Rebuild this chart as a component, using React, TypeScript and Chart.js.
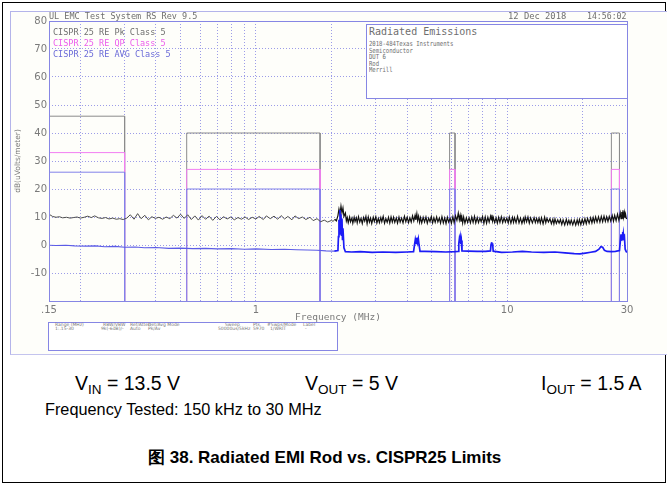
import React, { useEffect, useRef } from 'react';
import { Chart, registerables } from 'chart.js';

Chart.register(...registerables);

// CISPR 25 Class 5 radiated (rod) limit bands
const bandStartMHz = [0.15, 0.53, 5.9, 26];
const bandEndMHz = [0.3, 1.8, 6.2, 28];
const peakLimit = [46, 40, 40, 40];
const qpLimit = [33, 27, 27, 27];
const avgLimit = [26, 20, 20, 20];

// Peak (black) trace
const peakFreq = [
  0.150, 0.155, 0.160, 0.165, 0.170, 0.176, 0.182, 0.188, 0.194, 0.200,
  0.207, 0.214, 0.221, 0.228, 0.236, 0.244, 0.252, 0.260, 0.269, 0.278,
  0.287, 0.296, 0.306, 0.316, 0.327, 0.338, 0.349, 0.361, 0.373, 0.385,
  0.398, 0.411, 0.425, 0.439, 0.454, 0.469, 0.485, 0.501, 0.518, 0.535,
  0.553, 0.571, 0.590, 0.610, 0.630, 0.651, 0.673, 0.696, 0.719, 0.743,
  0.768, 0.794, 0.820, 0.848, 0.876, 0.905, 0.935, 0.966, 1.00, 1.03,
  1.07, 1.10, 1.14, 1.18, 1.22, 1.26, 1.30, 1.34, 1.39, 1.43,
  1.48, 1.53, 1.58, 1.64, 1.69, 1.75, 1.81, 1.87, 1.93, 2.00,
  2.03, 2.06, 2.09, 2.12, 2.14, 2.16, 2.18, 2.20, 2.22, 2.24,
  2.27, 2.29, 2.31, 2.33, 2.36, 2.38, 2.41, 2.43, 2.46, 2.48, 2.51, 2.53, 2.56, 2.59, 2.62, 2.65, 2.68, 2.71, 2.74, 2.77,
  2.80, 2.83, 2.86, 2.89, 2.93, 2.96, 3.00, 3.03, 3.07, 3.10, 3.14, 3.17, 3.21, 3.25, 3.29, 3.33, 3.37, 3.41, 3.45, 3.49,
  3.53, 3.57, 3.62, 3.66, 3.71, 3.75, 3.80, 3.85, 3.90, 3.95, 4.00, 4.05, 4.10, 4.15, 4.20, 4.25, 4.30, 4.33, 4.37, 4.40,
  4.44, 4.48, 4.52, 4.57, 4.63, 4.69, 4.75, 4.81, 4.87, 4.93, 4.99, 5.05, 5.11, 5.17, 5.24, 5.30, 5.37, 5.43, 5.50, 5.57,
  5.64, 5.71, 5.78, 5.85, 5.93, 6.00, 6.08, 6.15, 6.23, 6.31, 6.39, 6.45, 6.50, 6.55, 6.60, 6.65, 6.71, 6.79, 6.88, 6.96,
  7.05, 7.14, 7.23, 7.32, 7.41, 7.50, 7.60, 7.69, 7.79, 7.88, 7.98, 8.08, 8.18, 8.28, 8.38, 8.48, 8.59, 8.65, 8.70, 8.75,
  8.81, 8.92, 9.03, 9.14, 9.25, 9.36, 9.48, 9.60, 9.72, 9.84, 9.97, 10.1, 10.2, 10.35, 10.5, 10.6, 10.7, 10.85, 11.0, 11.15,
  11.3, 11.45, 11.6, 11.7, 11.8, 11.95, 12.1, 12.25, 12.4, 12.6, 12.8, 12.95, 13.1, 13.25, 13.4, 13.55, 13.7, 13.9, 14.1, 14.25,
  14.4, 14.6, 14.8, 15.0, 15.2, 15.35, 15.5, 15.7, 15.9, 16.1, 16.3, 16.5, 16.7, 16.95, 17.2, 17.4, 17.6, 17.8, 18.0, 18.25,
  18.5, 18.75, 19.0, 19.2, 19.4, 19.65, 19.9, 20.15, 20.4, 20.65, 20.9, 21.2, 21.5, 21.75, 22.0, 22.25, 22.5, 22.8, 23.1, 23.4,
  23.7, 24.0, 24.3, 24.6, 24.9, 25.2, 25.5, 25.85, 26.2, 26.5, 26.8, 27.15, 27.5, 27.85, 28.2, 28.4, 28.6, 28.75, 28.9, 29.1,
  29.3, 29.45, 29.6, 29.8, 30.0,
];
const peakLevel = [
  11.0, 10.2, 9.9, 10.1, 9.7, 9.9, 9.6, 9.8, 10.0, 9.6,
  9.9, 10.3, 9.8, 10.4, 9.7, 9.5, 9.8, 9.3, 9.6, 9.2,
  9.4, 9.1, 9.6, 10.8, 9.2, 11.2, 9.4, 10.6, 9.0, 10.1,
  9.5, 9.9, 9.2, 10.0, 9.4, 10.6, 9.6, 11.0, 9.5, 10.8,
  9.1, 10.4, 8.9, 10.5, 9.2, 10.3, 8.8, 10.2, 9.0, 10.1,
  9.3, 10.0, 9.0, 9.8, 9.2, 10.0, 9.1, 9.9, 9.3, 10.2,
  9.1, 10.4, 9.4, 10.3, 9.2, 10.5, 9.3, 10.2, 9.0, 10.4,
  9.4, 10.0, 9.1, 9.9, 8.7, 9.4, 8.3, 8.9, 8.2, 8.8,
  8.4, 9.2, 8.6, 10.5, 12.8, 11.0, 13.9, 11.5, 13.2, 10.2,
  11.4, 8.6, 9.8, 8.0, 10.0, 8.3, 9.6, 7.8, 9.9, 8.4, 9.7, 7.9, 10.1, 8.2, 9.5, 7.7, 9.8, 8.5, 10.2, 7.6,
  10.0, 8.2, 9.6, 7.7, 9.9, 8.4, 10.1, 7.9, 9.5, 8.0, 9.8, 8.3, 10.2, 7.8, 9.4, 8.1, 9.9, 7.9, 10.0, 8.2,
  9.9, 8.1, 9.7, 7.8, 10.0, 8.2, 9.6, 7.9, 10.2, 8.3, 9.9, 8.0, 9.7, 8.2, 10.4, 8.6, 10.6, 9.0, 11.2, 8.8,
  10.3, 8.1, 9.8, 7.9, 9.9, 8.2, 10.0, 7.8, 9.6, 8.3, 10.1, 7.9, 9.7, 8.1, 10.0, 8.2, 9.6, 7.8, 10.1, 7.9,
  9.7, 7.7, 9.9, 8.2, 9.5, 7.8, 10.1, 8.0, 10.4, 8.8, 11.4, 9.0, 10.6, 8.3, 10.1, 7.9, 10.0, 7.8, 9.7, 8.1,
  9.7, 7.9, 10.0, 8.1, 10.2, 7.9, 9.8, 8.0, 9.6, 8.3, 10.1, 7.7, 10.0, 7.8, 9.9, 8.2, 10.3, 9.0, 10.8, 8.6,
  9.8, 8.0, 9.7, 7.8, 9.9, 8.1, 10.1, 8.0, 9.7, 8.2, 9.6, 7.9, 10.0, 7.8, 9.9, 8.1, 9.8, 8.0, 10.2, 7.9,
  9.6, 7.7, 9.5, 8.1, 10.0, 8.3, 10.0, 7.8, 9.7, 7.9, 9.8, 8.0, 9.5, 8.0, 9.6, 7.8, 9.7, 7.6, 9.9, 8.0,
  9.5, 8.2, 9.4, 7.6, 9.2, 7.5, 9.3, 7.7, 9.0, 7.8, 9.1, 7.3, 9.0, 7.2, 9.2, 7.4, 8.8, 7.4, 8.9, 7.2,
  8.9, 7.1, 9.0, 7.4, 9.1, 7.3, 9.2, 7.5, 9.4, 7.6, 9.5, 7.8, 9.7, 7.9, 9.8, 8.1, 10.0, 8.2, 10.1, 8.2,
  10.2, 8.3, 10.3, 8.4, 10.1, 8.4, 10.2, 8.5, 10.5, 8.5, 10.6, 8.7, 11.0, 8.8, 11.4, 9.4, 11.8, 9.6, 12.4, 9.9,
  11.6, 9.8, 11.0, 9.5, 9.4,
];

// Average (blue) trace
const avgFreq = [
  0.150, 0.160, 0.175, 0.190, 0.210, 0.230, 0.250, 0.275, 0.300, 0.330,
  0.360, 0.400, 0.450, 0.500, 0.560, 0.630, 0.700, 0.800, 0.900, 1.00,
  1.15, 1.30, 1.45, 1.60, 1.75, 1.90, 2.05, 2.12, 2.13, 2.14,
  2.15, 2.16, 2.17, 2.18, 2.19, 2.20, 2.21, 2.22, 2.24, 2.27,
  2.40, 2.60, 2.90, 3.20, 3.60, 4.00, 4.24, 4.28, 4.31, 4.34,
  4.37, 4.40, 4.43, 4.46, 4.50, 4.70, 5.20, 5.70, 6.20, 6.38,
  6.42, 6.45, 6.48, 6.51, 6.54, 6.57, 6.61, 7.00, 7.60, 8.20,
  8.58, 8.63, 8.67, 8.71, 8.75, 8.80, 9.50, 10.5, 11.5, 12.5,
  14.0, 15.5, 17.0, 18.5, 19.5, 20.5, 21.5, 22.5, 23.2, 23.6,
  24.0, 24.4, 25.0, 26.0, 27.0, 28.0, 28.2, 28.4, 28.5, 28.6,
  28.7, 28.8, 28.9, 29.0, 29.1, 29.3, 29.5, 29.8, 30.0,
];
const avgLevel = [
  -0.1, -0.2, -0.1, -0.3, -0.4, -0.3, -0.6, -0.5, -0.8, -0.7,
  -1.0, -0.9, -1.2, -1.1, -1.3, -1.2, -1.4, -1.3, -1.5, -1.4,
  -1.6, -1.5, -1.7, -1.8, -1.9, -2.1, -2.2, -2.0, 3.0, 9.0,
  4.0, 12.5, 5.0, 11.0, 3.5, 9.5, 2.0, 6.0, -1.0, -2.4,
  -2.5, -2.4, -2.6, -2.5, -2.6, -2.5, -2.4, 0.2, 2.0, 0.6,
  2.6, 0.9, 2.2, 0.0, -2.3, -2.3, -2.4, -2.5, -2.4, -2.3,
  0.5, 2.0, 0.8, 2.4, 0.4, 1.6, -2.1, -2.2, -2.3, -2.3,
  -2.1, 0.2, 1.0, 0.0, 0.6, -2.2, -2.6, -2.5, -2.3, -2.5,
  -2.6, -2.5, -2.8, -3.1, -3.2, -2.9, -2.6, -2.3, -1.5, -0.6,
  -0.8, -1.9, -2.3, -2.4, -2.3, -2.0, 1.0, 3.8, 1.5, 3.2,
  2.0, 4.6, 2.4, 4.0, 2.5, 3.0, -1.5, -2.4, -2.6,
];

const xGridValues = [0.15, 0.2, 0.3, 0.4, 0.5, 0.6, 0.7, 0.8, 0.9, 1, 2, 3, 4, 5, 6, 7, 8, 9, 10, 20, 30];
const xLabeledTicks = [0.15, 1, 10, 30];
const xTickText = ['.15', '1', '10', '30'];
const yMin = -20;
const yMax = 80;

const seriesNames = ['CISPR 25 RE Pk Class 5', 'CISPR 25 RE QP Class 5', 'CISPR 25 RE AVG Class 5'];

function limitPoints(levels: number[]) {
  const pts: { x: number; y: number | null }[] = [];
  for (let i = 0; i < bandStartMHz.length; i++) {
    pts.push({ x: bandStartMHz[i], y: yMin });
    pts.push({ x: bandStartMHz[i], y: levels[i] });
    pts.push({ x: bandEndMHz[i], y: levels[i] });
    pts.push({ x: bandEndMHz[i], y: yMin });
    pts.push({ x: bandEndMHz[i], y: null });
  }
  return pts;
}

const GRID = '#9c9ce8';
const FRAME = '#8686e4';
const TXT = '#7a7a7a';

const plotFrame = {
  id: 'plotFrame',
  afterDatasetsDraw(chart: any) {
    const { ctx, chartArea: a } = chart;
    ctx.save();
    ctx.strokeStyle = FRAME;
    ctx.lineWidth = 1;
    ctx.strokeRect(Math.round(a.left) + 0.5, Math.round(a.top) + 0.5, Math.round(a.right - a.left), Math.round(a.bottom - a.top));
    ctx.restore();
  },
};

function EmiChart() {
  const ref = useRef<HTMLCanvasElement | null>(null);
  useEffect(() => {
    if (!ref.current) return;
    const chart = new Chart(ref.current, {
      type: 'line',
      data: {
        datasets: [
          {
            label: 'Peak',
            data: peakFreq.map((f, i) => ({ x: f, y: peakLevel[i] })),
            borderWidth: 1,
            borderColor: '#222',
            segment: {
              borderColor: (c: any) => (c.p0.parsed.x < 2.05 ? '#4d4d4d' : '#111111'),
              borderWidth: (c: any) => (c.p0.parsed.x < 2.05 ? 1 : 1.2),
            },
            pointRadius: 0,
            order: 1,
          },
          {
            label: 'Average',
            data: avgFreq.map((f, i) => ({ x: f, y: avgLevel[i] })),
            borderWidth: 1.3,
            borderColor: '#2a2af0',
            segment: {
              borderColor: (c: any) => (c.p0.parsed.x < 2.05 ? '#5c5ce6' : '#1c1cf6'),
              borderWidth: (c: any) => (c.p0.parsed.x < 2.05 ? 1.1 : 1.7),
            },
            pointRadius: 0,
            order: 0,
          },
          {
            label: seriesNames[2],
            data: limitPoints(avgLimit),
            borderWidth: 1,
            borderColor: '#8282ea',
            pointRadius: 0,
            spanGaps: false,
            order: 2,
          },
          {
            label: seriesNames[1],
            data: limitPoints(qpLimit),
            borderWidth: 1,
            borderColor: '#f27ef2',
            pointRadius: 0,
            spanGaps: false,
            order: 3,
          },
          {
            label: seriesNames[0],
            data: limitPoints(peakLimit),
            borderWidth: 1,
            borderColor: '#8c8c8c',
            pointRadius: 0,
            spanGaps: false,
            order: 4,
          },
        ],
      },
      options: {
        animation: false,
        responsive: false,
        devicePixelRatio: 1,
        layout: { padding: { left: 0, top: 10, right: 40, bottom: 0 } },
        plugins: { legend: { display: false }, tooltip: { enabled: false } },
        elements: { line: { tension: 0 } },
        scales: {
          x: {
            type: 'logarithmic',
            min: 0.15,
            max: 30,
            afterBuildTicks: (s: any) => {
              s.ticks = xGridValues.map((v) => ({ value: v }));
            },
            afterFit: (s: any) => {
              s.height = 54;
            },
            ticks: {
              autoSkip: false,
              maxRotation: 0,
              padding: 3,
              color: TXT,
              font: { family: 'DejaVu Sans', size: 10 },
              callback: (v: any) => {
                const idx = xLabeledTicks.findIndex((t) => Math.abs(t - Number(v)) < 1e-6);
                return idx >= 0 ? xTickText[idx] : '';
              },
            },
            grid: { display: true, drawOnChartArea: true, color: GRID, lineWidth: 1, drawTicks: false },
            border: { display: false, dash: [1, 2] },
            title: {
              display: true,
              text: 'Frequency (MHz)',
              color: TXT,
              font: { family: 'DejaVu Sans Mono', size: 9.5 },
              padding: { top: 0, bottom: 32 },
            },
          },
          y: {
            min: yMin,
            max: yMax,
            afterFit: (s: any) => {
              s.width = 39;
            },
            ticks: {
              stepSize: 10,
              padding: 2,
              color: TXT,
              font: { family: 'DejaVu Sans', size: 10 },
              callback: (v: any) => (Number(v) === yMin ? '' : String(v)),
            },
            grid: { display: true, drawOnChartArea: true, color: GRID, lineWidth: 1, drawTicks: false },
            border: { display: false, dash: [1, 2] },
            title: {
              display: true,
              text: 'dB(uVolts/meter)',
              color: TXT,
              font: { family: 'DejaVu Sans', size: 7.5 },
              padding: { top: 4, bottom: 0 },
            },
          },
        },
      },
      plugins: [plotFrame],
    } as any);
    return () => chart.destroy();
  }, []);
  return <canvas ref={ref} width={657} height={344} style={{ position: 'absolute', left: 0, top: 0, width: 657, height: 344 }} />;
}

const mono = "'DejaVu Sans Mono', monospace";
const arial = "'Liberation Sans', Arial, sans-serif";

function T(props: { x: number; y: number; size: number; color?: string; font?: string; children: any; weight?: any; scaleX?: number }) {
  return (
    <div
      style={{
        position: 'absolute',
        left: props.x,
        top: props.y - props.size * 0.6,
        fontFamily: props.font || mono,
        fontSize: props.size,
        lineHeight: `${props.size * 1.2}px`,
        color: props.color || '#6e6e6e',
        whiteSpace: 'pre',
        fontWeight: props.weight || 'normal',
        transform: props.scaleX ? `scaleX(${props.scaleX})` : undefined,
        transformOrigin: 'left center',
      }}
    >
      {props.children}
    </div>
  );
}

const summaryHead = ['Range (MHz)', 'RBW/VBW', 'Ref/Atten', 'Det/Avg Mode', 'Sweep', 'Pts.', '#Swps/Mode', 'Label'];
const summaryVals = ['1:.15-30', '9k(-6dB)/-', 'Auto', 'Pk/Av', '50000us/5kHz', '5970', '1/WRIT', '-'];
const summaryHeadX = [55, 103, 130, 148, 225, 253, 267, 303];
const summaryValX = [55, 101, 130, 148, 218, 253, 270, 305];

export default function App() {
  return (
    <div style={{ position: 'fixed', left: 0, top: 0, width: 667, height: 484, background: '#ffffff', overflow: 'hidden' }}>
      <div style={{ position: 'absolute', left: 2, top: 2, width: 664, height: 481, border: '1.5px solid #000', boxSizing: 'border-box' }} />
      <div
        style={{
          position: 'absolute',
          left: 10,
          top: 11,
          width: 657,
          height: 344,
          background: '#fefefa',
          borderLeft: '1px solid #b4b4ea',
          borderTop: '1px solid #b4b4ea',
          borderBottom: '1px solid #c4c4ee',
          boxSizing: 'border-box',
        }}
      />
      <div style={{ position: 'absolute', left: 10, top: 11, width: 657, height: 344 }}>
        <EmiChart />
      </div>

      <T x={49} y={16.5} size={8.5}>UL EMC Test System RS Rev 9.5</T>
      <T x={508} y={16.5} size={8.8}>12 Dec 2018</T>
      <T x={587} y={16.5} size={8.2}>14:56:02</T>

      <T x={53} y={32} size={8.5} color="#6f6f6f">{seriesNames[0]}</T>
      <T x={53} y={43} size={8.5} color="#ec5cec">{seriesNames[1]}</T>
      <T x={53} y={54} size={8.5} color="#6a6ad8">{seriesNames[2]}</T>

      <div style={{ position: 'absolute', left: 366, top: 24, width: 262, height: 75, background: '#ffffff', border: '1px solid #8686e4', boxSizing: 'border-box' }} />
      <T x={369} y={32} size={10}>Radiated Emissions</T>
      <T x={369} y={44.5} size={7} scaleX={0.8}>2018-484Texas Instruments</T>
      <T x={369} y={51} size={7} scaleX={0.8}>Semiconductor</T>
      <T x={369} y={57.5} size={7} scaleX={0.8}>DUT 6</T>
      <T x={369} y={64} size={7} scaleX={0.8}>Rod</T>
      <T x={369} y={70.5} size={7} scaleX={0.8}>Merrill</T>

      <div style={{ position: 'absolute', left: 48, top: 322, width: 290, height: 29, background: '#ffffff', border: '1px solid #8686e4', boxSizing: 'border-box' }} />
      {summaryHead.map((h, i) => (
        <T key={'h' + i} x={summaryHeadX[i]} y={325} size={4.5} font="'DejaVu Sans', sans-serif" color="#777">{h}</T>
      ))}
      {summaryVals.map((h, i) => (
        <T key={'v' + i} x={summaryValX[i]} y={329} size={4.5} font="'DejaVu Sans', sans-serif" color="#777">{h}</T>
      ))}

      <div style={{ position: 'absolute', left: 75, top: 372, fontFamily: arial, fontSize: 19.5, color: '#000', whiteSpace: 'pre' }}>
        V<sub style={{ fontSize: 13.5, verticalAlign: -4 }}>IN</sub> = 13.5 V
      </div>
      <div style={{ position: 'absolute', left: 305, top: 372, fontFamily: arial, fontSize: 19.5, color: '#000', whiteSpace: 'pre' }}>
        V<sub style={{ fontSize: 13.5, verticalAlign: -4 }}>OUT</sub> = 5 V
      </div>
      <div style={{ position: 'absolute', left: 541, top: 372, fontFamily: arial, fontSize: 19.5, color: '#000', whiteSpace: 'pre' }}>
        I<sub style={{ fontSize: 13.5, verticalAlign: -4 }}>OUT</sub> = 1.5 A
      </div>
      <div style={{ position: 'absolute', left: 45, top: 400, fontFamily: arial, fontSize: 16.3, color: '#000', whiteSpace: 'pre' }}>
        Frequency Tested: 150 kHz to 30 MHz
      </div>
      <div style={{ position: 'absolute', left: 148, top: 446, fontFamily: arial, fontSize: 17, fontWeight: 'bold', color: '#000', whiteSpace: 'pre' }}>
        图 38. Radiated EMI Rod vs. CISPR25 Limits
      </div>
    </div>
  );
}
